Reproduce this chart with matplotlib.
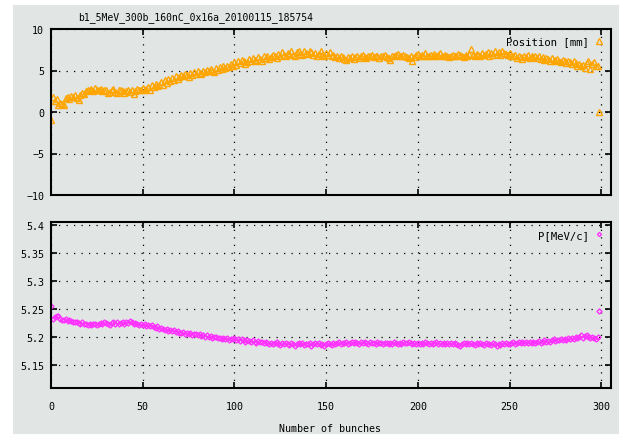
import matplotlib.pyplot as plt
import matplotlib.patches as patches
import numpy as np

title = "b1_5MeV_300b_160nC_0x16a_20100115_185754"

# position [mm] per bunch
position = [
    -1.0, 1.8, 1.3, 1.6, 0.9, 1.1, 1.0, 0.8, 1.7, 1.8, 1.6, 1.9, 1.8, 2.0, 1.7, 1.5, 2.1, 2.3, 2.2, 2.5,
    2.7, 2.6, 2.8, 2.5, 2.9, 2.7, 2.6, 2.8, 2.5, 2.7, 2.6, 2.3, 2.4, 2.6, 2.8, 2.4, 2.3, 2.6, 2.7, 2.5,
    2.3, 2.5, 2.7, 2.4, 2.6, 2.2, 2.5, 2.8, 2.6, 2.7, 2.9, 2.6, 2.8, 3.0, 2.7, 3.2, 3.0, 3.4, 3.1, 3.3,
    3.6, 3.3, 3.8, 3.5, 4.0, 3.7, 4.1, 3.9, 4.3, 4.0, 4.2, 4.5, 4.3, 4.6, 4.4, 4.2, 4.7, 4.5, 4.8, 4.6,
    4.9, 4.7, 4.6, 5.0, 4.8, 5.1, 4.9, 5.2, 5.0, 4.8, 5.3, 5.1, 5.4, 5.2, 5.5, 5.3, 5.6, 5.4, 5.8, 5.6,
    6.0, 5.7, 6.2, 5.9, 6.3, 6.1, 5.8, 6.0, 6.4, 6.2, 6.5, 6.3, 6.1, 6.6, 6.4, 6.2, 6.7, 6.5, 6.8, 6.4,
    6.6, 6.9, 6.7, 6.5, 7.0, 6.8, 7.2, 6.9, 6.7, 7.1, 7.0, 7.3, 6.9, 6.8, 7.2, 7.4, 7.0, 6.9, 7.3, 7.1,
    7.0, 7.4, 7.2, 6.9, 7.1, 6.8, 7.0, 7.3, 6.9, 6.8, 7.1, 6.9, 7.2, 6.8, 6.9, 6.6, 6.7, 6.5, 6.8, 6.6,
    6.4, 6.3, 6.6, 6.5, 6.7, 6.4, 6.6, 6.8, 6.5, 6.7, 6.9, 6.6, 6.5, 6.8, 6.7, 6.9, 6.6, 6.8, 6.7, 6.5,
    6.8, 6.7, 6.9, 6.6, 6.5, 6.3, 6.8, 6.7, 6.9, 7.0, 6.8, 6.7, 6.9, 6.8, 6.6, 6.5, 6.8, 6.2, 6.6, 6.9,
    7.0, 6.8, 6.9, 6.7, 7.1, 6.8, 6.7, 6.9, 6.8, 7.0, 6.7, 6.9, 7.1, 6.8, 6.7, 6.9, 6.8, 6.6, 6.8, 6.9,
    6.7, 6.8, 7.0, 6.9, 6.7, 6.6, 6.9, 6.8, 7.0, 7.6, 6.9, 6.8, 7.0, 6.9, 6.7, 7.1, 6.9, 7.0, 7.2, 6.8,
    7.1, 6.9, 7.3, 7.0, 7.2, 6.9, 7.4, 7.1, 7.0, 6.9, 7.1, 6.8, 6.7, 6.9, 6.5, 6.8, 6.6, 6.4, 6.7, 6.6,
    6.9, 6.5, 6.7, 6.6, 6.8, 6.5, 6.7, 6.4, 6.6, 6.3, 6.5, 6.4, 6.2, 6.5, 6.1, 6.3, 6.4, 6.2, 6.0, 6.3,
    6.1, 5.9, 6.2, 6.0, 5.8, 6.1, 5.9, 5.6, 5.8, 5.5, 5.7, 5.3, 5.9, 6.1, 5.2, 5.8, 6.0, 5.5, 5.6, 0.0,
]

# momentum [MeV/c] per bunch
momentum = [
    5.255, 5.232, 5.236, 5.238, 5.237, 5.233, 5.231, 5.230, 5.232, 5.229, 5.231, 5.228, 5.227, 5.226, 5.227, 5.225, 5.224, 5.226, 5.223, 5.224,
    5.222, 5.223, 5.222, 5.224, 5.223, 5.222, 5.224, 5.225, 5.223, 5.226, 5.225, 5.224, 5.222, 5.225, 5.227, 5.224, 5.226, 5.223, 5.225, 5.226,
    5.224, 5.227, 5.225, 5.228, 5.226, 5.224, 5.225, 5.223, 5.222, 5.224, 5.221, 5.223, 5.220, 5.222, 5.219, 5.221, 5.218, 5.216, 5.219, 5.215,
    5.217, 5.214, 5.212, 5.215, 5.211, 5.213, 5.210, 5.212, 5.209, 5.211, 5.208, 5.207, 5.209, 5.206, 5.208, 5.205, 5.207, 5.204, 5.206, 5.205,
    5.203, 5.205, 5.202, 5.204, 5.201, 5.203, 5.200, 5.202, 5.199, 5.201, 5.200, 5.198, 5.199, 5.197, 5.199, 5.196, 5.198, 5.195, 5.197, 5.196,
    5.198, 5.195, 5.197, 5.193, 5.196, 5.194, 5.192, 5.195, 5.193, 5.191, 5.194, 5.192, 5.190, 5.193, 5.191, 5.192, 5.189, 5.191, 5.190, 5.188,
    5.190, 5.187, 5.189, 5.191, 5.188, 5.186, 5.189, 5.187, 5.190, 5.188, 5.186, 5.189, 5.187, 5.185, 5.188, 5.190, 5.187, 5.189, 5.186, 5.188,
    5.187, 5.189, 5.185, 5.188, 5.190, 5.187, 5.189, 5.186, 5.188, 5.184, 5.187, 5.189, 5.188, 5.186, 5.190, 5.187, 5.189, 5.191, 5.188, 5.190,
    5.189, 5.191, 5.188, 5.190, 5.192, 5.189, 5.191, 5.190, 5.188, 5.191, 5.189, 5.192, 5.190, 5.188, 5.191, 5.189, 5.190, 5.188, 5.191, 5.189,
    5.190, 5.188, 5.190, 5.189, 5.187, 5.190, 5.188, 5.191, 5.189, 5.187, 5.190, 5.188, 5.191, 5.189, 5.190, 5.192, 5.189, 5.187, 5.190, 5.188,
    5.189, 5.187, 5.190, 5.188, 5.191, 5.189, 5.187, 5.190, 5.188, 5.189, 5.191, 5.188, 5.190, 5.187, 5.189, 5.188, 5.190, 5.187, 5.189, 5.188,
    5.190, 5.188, 5.186, 5.184, 5.187, 5.189, 5.188, 5.190, 5.187, 5.189, 5.188, 5.186, 5.189, 5.187, 5.190, 5.188, 5.186, 5.189, 5.187, 5.188,
    5.186, 5.189, 5.187, 5.185, 5.188, 5.186, 5.189, 5.187, 5.190, 5.188, 5.187, 5.189, 5.191, 5.188, 5.190, 5.192, 5.189, 5.191, 5.190, 5.192,
    5.189, 5.191, 5.190, 5.192, 5.189, 5.191, 5.193, 5.190, 5.192, 5.194, 5.191, 5.193, 5.192, 5.194, 5.196, 5.193, 5.195, 5.194, 5.196, 5.195,
    5.197, 5.195, 5.198, 5.196, 5.199, 5.197, 5.200, 5.198, 5.201, 5.203, 5.199, 5.202, 5.204, 5.200, 5.198, 5.201, 5.199, 5.197, 5.200, 5.247,
]

bunch = np.arange(len(position))

xticks = [0, 50, 100, 150, 200, 250, 300]
yticks_top = [-10, -5, 0, 5, 10]
yticks_bot = [5.15, 5.2, 5.25, 5.3, 5.35, 5.4]
yticklabels_bot = ["5.15", "5.2", "5.25", "5.3", "5.35", "5.4"]

bg = "#e1e5e4"
mono = "DejaVu Sans Mono"
fs = 7.2

fig = plt.figure(figsize=(6.19, 4.35), dpi=100, facecolor=bg)
# white strips along the top and left edge, as in the screenshot
fig.patches.append(patches.Rectangle((0, 1 - 6 / 435), 1, 6 / 435,
                                     transform=fig.transFigure, facecolor="white",
                                     edgecolor="none", zorder=-10))
fig.patches.append(patches.Rectangle((0, 0), 13 / 619, 1,
                                     transform=fig.transFigure, facecolor="white",
                                     edgecolor="none", zorder=-10))

ax1 = fig.add_axes([51 / 619, 1 - 196 / 435, 560 / 619, 166 / 435])
ax2 = fig.add_axes([51 / 619, 1 - 389.3 / 435, 560 / 619, 166 / 435])

ax1.plot(bunch, position, linestyle="none", marker="^", markersize=4.8,
         markerfacecolor="none", markeredgecolor="#ffa500", markeredgewidth=1,
         label="Position [mm]")
ax2.plot(bunch, momentum, linestyle="none", marker="D", markersize=2.6,
         markerfacecolor="none", markeredgecolor="#ff33ff", markeredgewidth=1,
         label="P[MeV/c]")

ax1.set_ylim(-10, 10)
ax1.set_yticks(yticks_top)
ax2.set_ylim(5.109, 5.404)
ax2.set_yticks(yticks_bot)
ax2.set_yticklabels(yticklabels_bot)

for ax in (ax1, ax2):
    ax.set_facecolor(bg)
    ax.set_xlim(0, 305.3)
    ax.set_xticks(xticks)
    ax.grid(True, color="black", linestyle=(0, (1, 5)), linewidth=0.9)
    ax.tick_params(direction="in", length=4, width=1.2, top=True, right=True,
                   labelsize=fs, colors="black")
    ax.tick_params(axis="y", pad=5)
    ax.tick_params(axis="x", pad=9)
    for lab in ax.get_xticklabels() + ax.get_yticklabels():
        lab.set_family(mono)
    for sp in ax.spines.values():
        sp.set_linewidth(1.5)
    ax.legend(loc="upper right", frameon=False, markerfirst=False,
              handlelength=0.8, handletextpad=0.6, borderaxespad=0.3,
              markerscale=0.8, prop={"family": mono, "size": fs + 0.5})

ax1.tick_params(labelbottom=False)

fig.text(78 / 619, 1 - 18 / 435, title, family=mono, fontsize=fs - 0.2,
         ha="left", va="center")
fig.text(330 / 619, 1 - 429 / 435, "Number of bunches", family=mono,
         fontsize=fs, ha="center", va="center")

fig.savefig("out.png", dpi=100, facecolor=fig.get_facecolor())
